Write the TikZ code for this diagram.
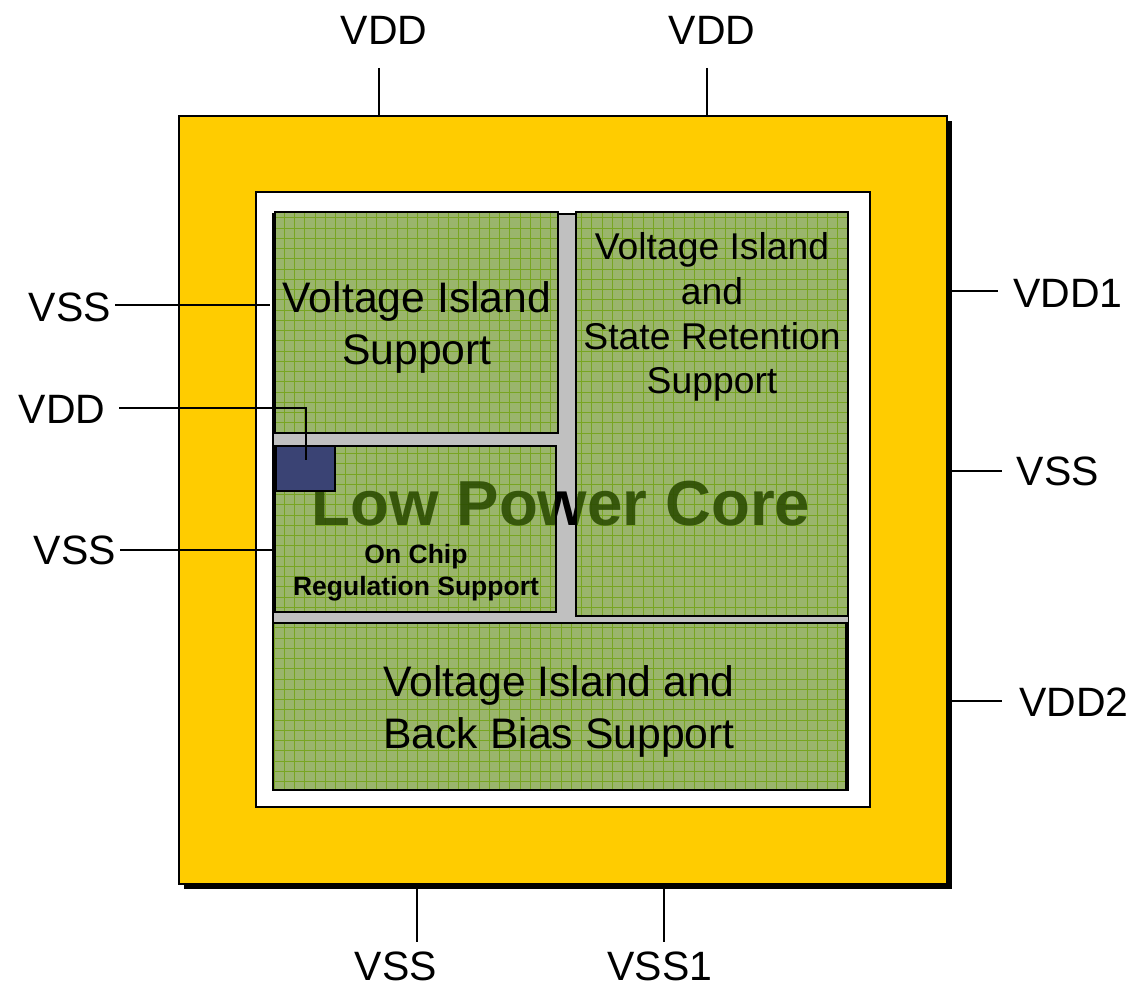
\documentclass[tikz,border=0pt]{standalone}
\usepackage{fontspec}
\setmainfont{Liberation Sans}
\definecolor{chipgold}{HTML}{FFCC00}
\definecolor{railgray}{HTML}{C0C0C0}
\definecolor{islandgreen}{HTML}{9AB56C}
\definecolor{gridgreen}{HTML}{78A522}
\definecolor{coregreen}{HTML}{2A4A00}
\definecolor{regblue}{HTML}{3A4374}
\newcommand{\corelabel}{\fontsize{63.6}{64}\selectfont\bfseries Low Power Core}
\newcommand{\islandgrid}[2]{%
  \begin{scope}
    \clip #1 rectangle #2;
    \foreach \gx in {0,...,60} {\draw[gridline] ({274+10.25*\gx},200) -- ({274+10.25*\gx},800);}
    \foreach \gy in {0,...,60} {\draw[gridline] (260,{207.5+10.25*\gy}) -- (860,{207.5+10.25*\gy});}
  \end{scope}}
\tikzset{
  x=1pt,y=-1pt,
  gridline/.style={gridgreen,line width=0.7pt},
  wire/.style={black,line width=1.7pt},
  islandedge/.style={draw=black,line width=2pt},
  pinlabel/.style={font=\fontsize{41}{46}\selectfont,inner sep=0pt,text=black},
  islandtext/.style={font=\fontsize{42.7}{46}\selectfont,inner sep=0pt,align=center,text=black},
  smalltext/.style={font=\fontsize{37.3}{44.8}\selectfont,inner sep=0pt,align=center,text=black},
  boldtext/.style={font=\fontsize{26.5}{32}\selectfont\bfseries,inner sep=0pt,align=center,text=black},
}
\begin{document}
\begin{tikzpicture}
\useasboundingbox (0,0) rectangle (1136,987);
% chip
\fill[black] (184,121) rectangle (952,889);
\path[fill=chipgold,draw=black,line width=1.2pt] (179,116) rectangle (947,884);
\path[fill=white,draw=black,line width=2pt] (255.5,192.5) rectangle (870,807);
\path[fill=railgray,draw=black,line width=1.2pt] (273,214) rectangle (848.5,790);
\draw[black,line width=2.4pt] (273,214) -- (273,790);
% text below the islands, seen black in the rail
\node[inner sep=0pt,text=black] (coreblack) at (561,503.5) {\corelabel};
% islands
\fill[islandgreen] (275,212) rectangle (558,433);
\fill[islandgreen] (576,212) rectangle (848,616);
\fill[islandgreen] (275,446) rectangle (556,612);
\fill[islandgreen] (273,623) rectangle (847,790);
\islandgrid{(275,212)}{(558,433)}
\islandgrid{(576,212)}{(848,616)}
\islandgrid{(275,446)}{(556,612)}
\islandgrid{(273,623)}{(847,790)}
\begin{scope}
  \clip (275,446) rectangle (556,612) (576,212) rectangle (848,616);
  \node[inner sep=0pt,text=coregreen,text opacity=0.88] (coregreentext) at (561,503.5) {\corelabel};
\end{scope}
\draw[islandedge] (275,212) rectangle (558,433);
\draw[islandedge] (576,212) rectangle (848,616);
\draw[islandedge] (275,446) rectangle (556,612);
\draw[islandedge,line width=2.4pt] (273,623) rectangle (846.5,790);
\path[fill=regblue,draw=black,line width=2pt] (276,446) rectangle (335,491);
% island labels
\node[islandtext] (vi) at (417,327) {Voltage Island\\[6pt]Support};
\node[smalltext] (virs) at (712,317) {Voltage Island\\and\\State Retention\\Support};
\node[boldtext] (reg) at (416,573) {On Chip\\Regulation Support};
\node[islandtext] (vibb) at (559,711) {Voltage Island and\\[6pt]Back Bias Support};
% pin labels
\node[pinlabel] (vddA) at (384,30) {VDD};
\node[pinlabel] (vddB) at (712,30) {VDD};
\node[pinlabel] (vssL1) at (70,307) {VSS};
\node[pinlabel] (vddL) at (62,409) {VDD};
\node[pinlabel] (vssL2) at (75,550) {VSS};
\node[pinlabel] (vdd1) at (1068,293) {VDD1};
\node[pinlabel] (vssR) at (1058,471) {VSS};
\node[pinlabel] (vdd2) at (1074,702) {VDD2};
\node[pinlabel] (vssB) at (396,966) {VSS};
\node[pinlabel] (vss1) at (660,966) {VSS1};
% connector ends
\coordinate (a0) at (379,68);   \coordinate (a1) at (379,116);
\coordinate (b0) at (707,68);   \coordinate (b1) at (707,116);
\coordinate (c0) at (115,305);  \coordinate (c1) at (270,305);
\coordinate (d0) at (119,408);  \coordinate (d1) at (306,408); \coordinate (d2) at (306,460);
\coordinate (e0) at (120,550);  \coordinate (e1) at (275,550);
\coordinate (f0) at (952,291);  \coordinate (f1) at (998,291);
\coordinate (g0) at (952,471);  \coordinate (g1) at (1002,471);
\coordinate (h0) at (952,701);  \coordinate (h1) at (1002,701);
\coordinate (i0) at (417,889);  \coordinate (i1) at (417,942);
\coordinate (j0) at (664,889);  \coordinate (j1) at (664,942);
\draw[wire] (a0) -- (a1);
\draw[wire] (b0) -- (b1);
\draw[wire] (c0) -- (c1);
\draw[wire] (d0) -- (d1) -- (d2);
\draw[wire] (e0) -- (e1);
\draw[wire] (f0) -- (f1);
\draw[wire] (g0) -- (g1);
\draw[wire] (h0) -- (h1);
\draw[wire] (i0) -- (i1);
\draw[wire] (j0) -- (j1);
\end{tikzpicture}
\end{document}
